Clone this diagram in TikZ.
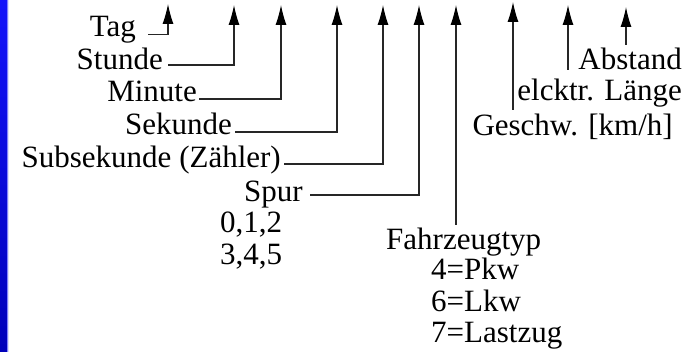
\documentclass[tikz,border=0pt]{standalone}
\usepackage{fontspec}
\setmainfont{Liberation Serif}
\usetikzlibrary{arrows.meta}
\definecolor{stripTop}{RGB}{20,20,250}
\definecolor{stripBot}{RGB}{0,0,185}
\definecolor{stripEdge}{RGB}{130,130,255}
\begin{document}
\begin{tikzpicture}[x=1pt,y=-1pt,
  lbl/.style={inner sep=0pt, font=\fontsize{31}{37}\selectfont},
  arr/.style={line width=1.1pt, black!85, -{Latex[length=20pt,width=11pt,black]}}]
\useasboundingbox (0,0) rectangle (689,352);
\fill[white] (0,0) rectangle (689,352);
\shade[top color=stripTop, bottom color=stripBot] (0,0) rectangle (8,352);
\draw[stripEdge, line width=0.8pt] (7.6,0) -- (7.6,352);

% arrow tips
\coordinate (tTag) at (168,4);
\coordinate (tStd) at (234,5);
\coordinate (tMin) at (281,5);
\coordinate (tSek) at (337,5);
\coordinate (tSub) at (383,5);
\coordinate (tSpur) at (419,5);
\coordinate (tFzt) at (456,5);
\coordinate (tGes) at (513,2);
\coordinate (tEl) at (568,5);
\coordinate (tAb) at (626,7);
% free lower ends
\coordinate (bFzt) at (456,225);
\coordinate (bGes) at (513,110);
\coordinate (bEl) at (568,70);
\coordinate (bAb) at (626,45);

\node[lbl,anchor=base east] (tag) at (136,37) {Tag};
\node[lbl,anchor=base east] (stunde) at (163,70) {Stunde};
\node[lbl,anchor=base east] (minute) at (197,102) {Minute};
\node[lbl,anchor=base east] (sekunde) at (232,135) {Sekunde};
\node[lbl,anchor=base east] (subsek) at (281,168) {Subsekunde (Zähler)};
\node[lbl,anchor=base east] (spur) at (303,202) {Spur};
\node[lbl,anchor=base west] (spurA) at (220,233) {0,1,2};
\node[lbl,anchor=base west] (spurB) at (220,265) {3,4,5};
\node[lbl,anchor=base west] (fzt) at (386,250) {Fahrzeugtyp};
\node[lbl,anchor=base west] (pkw) at (431,280) {4=Pkw};
\node[lbl,anchor=base west] (lkw) at (431,312) {6=Lkw};
\node[lbl,anchor=base west] (lz) at (431,343) {7=Lastzug};
\node[lbl,anchor=base east] (ges) at (673,136) {Geschw. [km/h]};
\node[lbl,anchor=base east] (el) at (682,101) {elcktr. Länge};
\node[lbl,anchor=base east] (ab) at (682,70) {Abstand};

\draw[arr] ([xshift=12pt,yshift=2.5pt]tag.base east) -| (tTag);
\draw[arr] ([xshift=5pt,yshift=5pt]stunde.base east) -| (tStd);
\draw[arr] ([xshift=2pt,yshift=3pt]minute.base east) -| (tMin);
\draw[arr] ([xshift=3pt,yshift=3pt]sekunde.base east) -| (tSek);
\draw[arr] ([xshift=3pt,yshift=4pt]subsek.base east) -| (tSub);
\draw[arr] ([xshift=7pt,yshift=7pt]spur.base east) -| (tSpur);
\draw[arr] (bFzt) -- (tFzt);
\draw[arr] (bGes) -- (tGes);
\draw[arr] (bEl) -- (tEl);
\draw[arr] (bAb) -- (tAb);
\end{tikzpicture}
\end{document}
